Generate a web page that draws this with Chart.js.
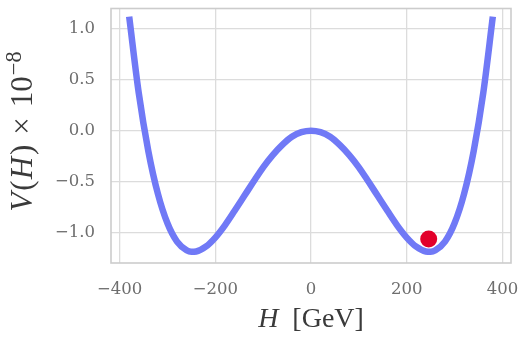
<!DOCTYPE html>
<html><head><meta charset="utf-8">
<script src="https://cdn.jsdelivr.net/npm/chart.js@4"></script>
<style>html,body{margin:0;padding:0;background:#fff}#wrap{width:523px;height:339px}</style>
</head><body><div id="wrap"><canvas id="c" width="523" height="339"></canvas></div>
<script>
// Higgs field values (GeV) and potential V(H) x 1e-8
const hValues = [-380,-360,-340,-320,-300,-280,-260,-250,-240,-220,-200,-180,-160,-140,-120,-100,-80,-60,-40,-20,0,
                 20,40,60,80,100,120,140,160,180,200,220,240,250,260,280,300,320,340,360,380];
const vValues = [1.12,0.37,-0.20,-0.62,-0.91,-1.09,-1.175,-1.19,-1.187,-1.14,-1.05,-0.93,-0.79,-0.645,-0.50,-0.36,-0.24,-0.14,-0.06,-0.015,0.0,
                 -0.015,-0.06,-0.14,-0.24,-0.36,-0.50,-0.645,-0.79,-0.93,-1.05,-1.14,-1.187,-1.19,-1.175,-1.09,-0.91,-0.62,-0.20,0.37,1.12];
const vevH = [246];
const vevV = [-1.065];
const xTicks = [-400,-200,0,200,400];
const yTicks = [-1.0,-0.5,0.0,0.5,1.0];

const minus = s => s.replace('-', '\u2212');
const TICK_FONT = {family: 'DejaVu Serif', size: 16.5};
const TITLE_FAMILY = 'Liberation Serif';

const framePlugin = {
  id: 'frame',
  beforeDatasetsDraw(chart) {
    const {ctx, chartArea: a} = chart;
    ctx.save();
    ctx.strokeStyle = '#cccccc';
    ctx.lineWidth = 1.6;
    ctx.strokeRect(a.left, a.top, a.right - a.left, a.bottom - a.top);
    ctx.restore();
  }
};

// draws a run of text segments (mixed italic / superscript), centred on the origin
function drawRun(ctx, parts, size) {
  const fontOf = p => (p.italic ? 'italic ' : '') + (size * (p.scale || 1)) + 'px "' + TITLE_FAMILY + '"';
  let total = 0;
  const widths = parts.map(p => {
    ctx.font = fontOf(p);
    const w = ctx.measureText(p.t).width + (p.gap || 0);
    total += w;
    return w;
  });
  let x = -total / 2;
  ctx.textAlign = 'left';
  parts.forEach((p, i) => {
    ctx.font = fontOf(p);
    ctx.fillText(p.t, x, p.dy || 0);
    x += widths[i];
  });
}

const titlePlugin = {
  id: 'titles',
  afterDraw(chart) {
    const {ctx} = chart;
    ctx.save();
    ctx.fillStyle = '#3a3a3a';
    ctx.textBaseline = 'middle';
    // x title
    ctx.save();
    ctx.translate(311, 320);
    drawRun(ctx, [{t: 'H', italic: true, gap: 14}, {t: '[GeV]'}], 28);
    ctx.restore();
    // y title
    ctx.save();
    ctx.translate(24, 131.5);
    ctx.rotate(-Math.PI / 2);
    drawRun(ctx, [
      {t: 'V', italic: true, gap: 2},
      {t: '(', gap: 1},
      {t: 'H', italic: true, gap: 2},
      {t: ')', gap: 10},
      {t: '\u00d7', gap: 10},
      {t: '10', gap: 1},
      {t: '\u22128', scale: 0.72, dy: -9}
    ], 31);
    ctx.restore();
    ctx.restore();
  }
};

const zeroPad = s => { s.paddingTop = 0; s.paddingBottom = 0; s.paddingLeft = 0; s.paddingRight = 0; };

new Chart(document.getElementById('c'), {
  type: 'scatter',
  data: {
    datasets: [
      {
        label: 'vev',
        data: vevH.map((h, i) => ({x: h, y: vevV[i]})),
        pointRadius: 8.5,
        pointBackgroundColor: '#e2002a',
        pointBorderWidth: 0,
        showLine: false
      },
      {
        label: 'V(H)',
        data: hValues.map((h, i) => ({x: h, y: vValues[i]})),
        showLine: true,
        borderColor: '#7079f6',
        borderWidth: 6.5,
        pointRadius: 0,
        cubicInterpolationMode: 'monotone',
        fill: false
      }
    ]
  },
  options: {
    responsive: false,
    animation: false,
    devicePixelRatio: 1,
    layout: {padding: {top: 4, right: 12, left: 0, bottom: 0}},
    plugins: {legend: {display: false}, tooltip: {enabled: false}},
    scales: {
      x: {
        type: 'linear', min: -418, max: 418,
        afterBuildTicks: s => { s.ticks = xTicks.map(v => ({value: v})); },
        afterFit: s => { s.height = 76; zeroPad(s); },
        grid: {color: '#dcdcdc', lineWidth: 1.3, drawTicks: false},
        border: {display: false},
        ticks: {color: '#6e6e6e', font: TICK_FONT, padding: 17, maxRotation: 0,
                callback: v => minus(String(v))}
      },
      y: {
        type: 'linear', min: -1.30, max: 1.20,
        afterBuildTicks: s => { s.ticks = yTicks.map(v => ({value: v})); },
        afterFit: s => { s.width = 111; zeroPad(s); },
        grid: {color: '#dcdcdc', lineWidth: 1.3, drawTicks: false},
        border: {display: false},
        ticks: {color: '#6e6e6e', font: TICK_FONT, padding: 16,
                callback: v => minus(Number(v).toFixed(1))}
      }
    }
  },
  plugins: [framePlugin, titlePlugin]
});
</script>
</body></html>
